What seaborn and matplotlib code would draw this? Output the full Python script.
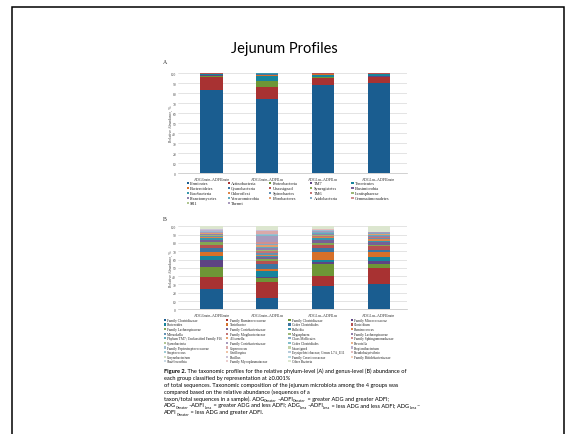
import re
import numpy as np
import pandas as pd
import matplotlib
matplotlib.use("Agg")
import matplotlib.pyplot as plt
from matplotlib.patches import Rectangle
import seaborn as sns

# ---------------- data ----------------
groups = ["GG", "GL", "LL", "LG"]
group_labels = [
    r"ADG$_{\mathregular{Greater}}$–ADFI$_{\mathregular{Greater}}$",
    r"ADG$_{\mathregular{Greater}}$–ADFI$_{\mathregular{Less}}$",
    r"ADG$_{\mathregular{Less}}$–ADFI$_{\mathregular{Less}}$",
    r"ADG$_{\mathregular{Less}}$–ADFI$_{\mathregular{Greater}}$",
]

phylum_names = [
    "Firmicutes", "Actinobacteria", "Proteobacteria", "TM7", "Tenericutes",
    "Bacteroidetes", "Cyanobacteria", "Unassigned", "Synergistetes", "Elusimicrobia",
    "Fusobacteria", "Chloroflexi", "Spirochaetes", "TM6", "Lentisphaerae",
    "Planctomycetes", "Verrucomicrobia", "Fibrobacteres", "Acidobacteria", "Gemmatimonadetes",
    "SR1", "Thermi",
]
phylum_values = [
    [83.0, 74.0, 88.0, 89.7],
    [13.5, 11.7, 7.0, 6.0],
    [0.8, 6.0, 0.6, 0.8],
    [0.3, 0.4, 0.3, 0.3],
    [1.2, 4.8, 2.6, 1.8],
    [0.4, 1.3, 0.5, 0.6],
    [0.3, 0.5, 0.4, 0.3],
    [0.2, 0.6, 0.3, 0.2],
    [0.05, 0.1, 0.05, 0.05],
    [0.04, 0.1, 0.04, 0.04],
    [0.05, 0.15, 0.05, 0.05],
    [0.03, 0.05, 0.03, 0.03],
    [0.03, 0.08, 0.03, 0.03],
    [0.02, 0.05, 0.02, 0.02],
    [0.02, 0.04, 0.02, 0.02],
    [0.02, 0.03, 0.02, 0.02],
    [0.01, 0.03, 0.01, 0.01],
    [0.01, 0.02, 0.01, 0.01],
    [0.01, 0.02, 0.01, 0.01],
    [0.01, 0.01, 0.01, 0.01],
    [0.01, 0.01, 0.01, 0.01],
    [0.01, 0.01, 0.01, 0.01],
]

genus_names = [
    "Family Clostridiaceae", "Family Ruminococcaceae", "Family Clostridiaceae", "Family Micrococcaceae",
    "Bacteroides", "Turicibacter", "Order Clostridiales", "Clostridium",
    "Family Lachnospiraceae", "Family Coriobacteriaceae", "Bulleidia", "Ruminococcus",
    "Mitsuokella", "Family Mogibacteriaceae", "Megasphaera", "Family Lachnospiraceae",
    "Phylum TM7; Unclassified Family F16", "Allisonella", "Class Mollicutes", "Family Sphingomonadaceae",
    "Cyanobacteria", "Family Coriobacteriaceae", "Order Clostridiales", "Prevotella",
    "Family Peptostreptococcaceae", "Coprococcus", "Unassigned", "Propionibacterium",
    "Streptococcus", "Oscillospira", "Erysipelotrichaceae; Genus L7A_E11", "Pseudobutyrivibrio",
    "Corynebacterium", "Bacillus", "Family Cerasicoccaceae", "Family Bifidobacteriaceae",
    "Shuttleworthia", "Family Mycoplasmataceae", "Other Bacteria",
]
genus_values = [
    [24.5, 13.6, 28.5, 30.1],
    [14.0, 19.3, 12.0, 19.3],
    [12.1, 4.8, 13.7, 4.8],
    [9.2, 1.0, 2.8, 4.4],
    [4.8, 7.8, 2.8, 4.8],
    [4.4, 1.5, 8.8, 5.6],
    [4.5, 6.2, 5.3, 2.8],
    [4.0, 4.0, 3.1, 4.0],
    [3.2, 2.8, 2.5, 2.2],
    [3.2, 2.0, 4.4, 3.0],
    [1.6, 1.8, 1.5, 1.6],
    [1.4, 1.2, 1.3, 2.4],
    [1.0, 2.0, 1.0, 0.8],
    [0.9, 2.5, 0.8, 1.2],
    [0.7, 1.5, 0.9, 0.7],
    [0.8, 2.0, 1.2, 1.0],
    [0.5, 1.6, 0.8, 0.9],
    [0.6, 1.4, 0.7, 1.3],
    [0.4, 2.0, 0.6, 0.5],
    [0.3, 1.5, 0.5, 0.6],
    [0.3, 1.0, 0.4, 0.4],
    [0.6, 7.0, 0.5, 0.2],
    [0.4, 0.8, 0.4, 0.1],
    [0.3, 0.6, 0.3, 0.1],
    [0.3, 0.6, 0.2, 0.1],
    [0.5, 4.0, 0.3, 0.1],
    [0.3, 0.1, 0.2, 0.1],
    [0.2, 0.05, 0.15, 0.05],
    [0.3, 0.05, 0.2, 0.05],
    [0.2, 0.05, 0.15, 0.05],
    [0.2, 0.05, 0.1, 0.05],
    [0.2, 0.05, 0.1, 0.05],
    [0.15, 0.05, 0.1, 0.05],
    [0.1, 0.05, 0.05, 0.03],
    [0.1, 0.05, 0.05, 0.03],
    [0.05, 0.05, 0.05, 0.03],
    [0.05, 0.03, 0.03, 0.02],
    [0.05, 0.02, 0.02, 0.02],
    [3.6, 5.5, 3.5, 6.5],
]

caption_bold = "Figure 2."
caption_lines = [
    " The taxonomic profiles for the relative phylum-level (A) and genus-level (B) abundance of",
    "each group classified by representation at \u22650.001%",
    "of total sequences. Taxonomic composition of the jejunum microbiota among the 4 groups was",
    "compared based on the relative abundance (sequences of a",
    "taxon/total sequences in a sample). ADG_{Greater}–ADFI_{Greater} = greater ADG and greater ADFI;",
    "ADG_{Greater}–ADFI_{Less} = greater ADG and less ADFI; ADG_{Less}–ADFI_{Less} = less ADG and less ADFI; ADG_{Less}–",
    "ADFI_{Greater} = less ADG and greater ADFI.",
]

# ---------------- style ----------------
sns.set_style("white")
plt.rcParams['font.family'] = ['Liberation Serif', 'DejaVu Sans']
plt.rcParams['mathtext.fontset'] = 'custom'
plt.rcParams['mathtext.rm'] = 'Liberation Serif'

W, H = 576, 435
fig = plt.figure(figsize=(W / 100, H / 100), dpi=100)
fig.patch.set_facecolor("white")


def fx(x):
    return x / W


def fy(y):
    return 1 - y / H


base = ["#1A5D90", "#A83232", "#6E9636", "#5E4483", "#16849C", "#D6702A"]
mixes = [0.0, 0.15, 0.32, 0.46, 0.58, 0.68, 0.76]


def shade(i):
    b = np.array(matplotlib.colors.to_rgb(base[i % 6]))
    f = mixes[min(i // 6, len(mixes) - 1)]
    return tuple(b + (1 - b) * f)


def make_axes(top, bottom):
    left, right = 178.1, 406.5
    return fig.add_axes([fx(left), fy(bottom), (right - left) / W, (bottom - top) / H])


def draw_panel(ax, values):
    arr = np.array(values, dtype=float)
    cum = np.cumsum(arr, axis=0)
    for i in range(len(values) - 1, -1, -1):
        df = pd.DataFrame({"group": groups, "top": cum[i]})
        sns.barplot(data=df, x="group", y="top", color=shade(i), width=0.4,
                    saturation=1, ax=ax, linewidth=0, errorbar=None)
    ax.set_xlim(-0.6, 3.5)
    ax.set_ylim(0, 100)
    ax.set_yticks(range(0, 101, 10))
    ax.set_yticklabels([str(v) for v in range(0, 101, 10)], fontsize=2.6, color="#404040")
    ax.set_xticks(range(4))
    ax.set_xticklabels(group_labels, fontsize=2.8, color="#202020")
    ax.tick_params(axis="both", length=0, pad=1.5)
    ax.yaxis.grid(True, color="#D9D9D9", lw=0.5)
    ax.xaxis.grid(False)
    ax.set_axisbelow(True)
    for s in ["top", "right", "left"]:
        ax.spines[s].set_visible(False)
    ax.spines["bottom"].set_color("#BFBFBF")
    ax.spines["bottom"].set_linewidth(0.5)
    ax.set_xlabel("")
    ax.set_ylabel("")


axA = make_axes(74, 174)
draw_panel(axA, phylum_values)
axB = make_axes(227.3, 310.3)
draw_panel(axB, genus_values)

# y labels
fig.text(fx(170.5), fy(124), "Relative Abundance, %", rotation=90, ha="center", va="center",
         fontsize=2.8, color="#404040")
fig.text(fx(170.5), fy(268.8), "Relative Abundance, %", rotation=90, ha="center", va="center",
         fontsize=2.8, color="#404040")

# panel letters
fig.text(fx(165), fy(62.5), "A", ha="center", va="center", fontsize=4.2, color="#333333")
fig.text(fx(165), fy(219.5), "B", ha="center", va="center", fontsize=4.2, color="#333333")

# title
fig.text(fx(284), fy(48.5), "Jejunum Profiles", ha="center", va="center", fontsize=10.5,
         family=["Lato", "DejaVu Sans"], color="black")


def legend(names, ncol, x0, dx, y0, dy, fs):
    for i, name in enumerate(names):
        r, c = divmod(i, ncol)
        x = x0 + c * dx
        y = y0 + r * dy
        fig.add_artist(Rectangle((fx(x - 1.1), fy(y + 1.1)), 2.2 / W, 2.2 / H,
                                 transform=fig.transFigure, facecolor=shade(i),
                                 edgecolor="none"))
        fig.text(fx(x + 2.3), fy(y), name, ha="left", va="center", fontsize=fs, color="#202020")


legend(phylum_names, 5, 187.7, 41.2, 184.2, 5.0, 3.2)
legend(genus_names, 4, 164.9, 62.3, 320.8, 4.62, 2.55)

# caption (subscripts drawn as separate small texts chained along the line)
sans = ["Lato", "DejaVu Sans"]
cap_fs = 4.05


def rich_line(x, y, s, fs, prev=None):
    parts = [p for p in re.split(r"(_\{[^}]*\})", s) if p]
    for p in parts:
        if p.startswith("_{"):
            txt, size, yy = p[2:-1], fs * 0.66, y + 1.2
        else:
            txt, size, yy = p, fs, y
        if prev is None:
            prev = fig.text(fx(x), fy(yy), txt, ha="left", va="baseline", fontsize=size,
                            family=sans, color="black")
        else:
            prev = axB.annotate(txt, xy=(1, fy(yy)), xycoords=(prev, "figure fraction"),
                                ha="left", va="baseline", fontsize=size, family=sans,
                                color="black", annotation_clip=False)
    return prev


cap_x, cap_y0, cap_dy = 164, 373, 6.9
t0 = fig.text(fx(cap_x), fy(cap_y0), caption_bold, ha="left", va="baseline", fontsize=cap_fs,
              family=sans, weight="bold", color="black")
rich_line(cap_x, cap_y0, caption_lines[0], cap_fs, prev=t0)
for k, line in enumerate(caption_lines[1:]):
    rich_line(cap_x, cap_y0 + cap_dy * (k + 1), line, cap_fs)

# slide frame
fig.add_artist(Rectangle((fx(12), -0.05), (564 - 12) / W, fy(7.5) + 0.05,
                         transform=fig.transFigure, fill=False, edgecolor="black", lw=1.1))

fig.savefig("out.png", dpi=100, facecolor="white")
